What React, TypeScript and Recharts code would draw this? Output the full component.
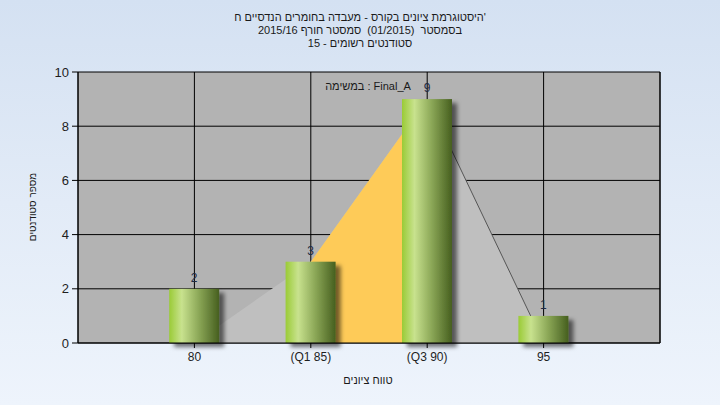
import React from 'react';
import { ComposedChart, Bar, Area, XAxis, YAxis, CartesianGrid, LabelList } from 'recharts';

const grades = [80, 85, 90, 95];
const gradeLabels = ['80', '(Q1 85)', '(Q3 90)', '95'];
const counts = [2, 3, 9, 1];
const polygonValues = [0, 3, 9, 0];
const iqrValues = [null, 3, 9, null];
const tailValues = [null, null, 9, 0];
const yTicks = [0, 2, 4, 6, 8, 10];

const titleLines = [
  "היסטוגרמת ציונים בקורס - מעבדה בחומרים הנדסיים ח'",
  'בסמסטר  (01/2015)  סמסטר חורף 2015/16',
  'סטודנטים רשומים - 15',
];
const titleDirs: ('ltr' | 'rtl')[] = ['ltr', 'rtl', 'rtl'];
const legendText = 'Final_A : במשימה';
const xTitle = 'טווח ציונים';
const yTitle = 'מספר סטודנטים';

const data = grades.map((g, i) => ({
  grade: g,
  count: counts[i],
  poly: polygonValues[i],
  iqr: iqrValues[i],
  tail: tailValues[i],
}));

const FONT = '"Liberation Sans", "DejaVu Sans", Arial, sans-serif';

const GradientBar = (props: any) => {
  const { x, y, width, height } = props;
  if (!height || height <= 0) return null;
  return (
    <rect x={x} y={y} width={width} height={height} fill="url(#barGrad)" filter="url(#barShadow)" />
  );
};

const XTick = (props: any) => {
  const { x, y, payload } = props;
  const idx = grades.indexOf(payload.value);
  return (
    <text x={x} y={y} dy="0.71em" textAnchor="middle" fontSize={12} fill="#1e1e1e" fontFamily={FONT}>
      {idx >= 0 ? gradeLabels[idx] : payload.value}
    </text>
  );
};

export default function App() {
  return (
    <div
      style={{
        position: 'absolute',
        left: 0,
        top: 0,
        width: 720,
        height: 405,
        background: 'linear-gradient(180deg, #d4e1f2 0%, #e2ebf7 50%, #eef4fc 100%)',
        fontFamily: FONT,
      }}
    >
      <svg width={0} height={0} style={{ position: 'absolute' }}>
        <defs>
          <linearGradient id="barGrad" x1="0" y1="0" x2="1" y2="0">
            <stop offset="0%" stopColor="#9acb36" />
            <stop offset="25%" stopColor="#c8e28e" />
            <stop offset="60%" stopColor="#8aa656" />
            <stop offset="100%" stopColor="#465f1f" />
          </linearGradient>
          <filter id="barShadow" x="-20%" y="-20%" width="160%" height="160%">
            <feDropShadow dx="5" dy="4" stdDeviation="2" floodColor="#000" floodOpacity="0.55" />
          </filter>
        </defs>
      </svg>
      <ComposedChart
        width={720}
        height={405}
        data={data}
        margin={{ top: 72, right: 20, bottom: 32, left: 38 }}
      >
        <CartesianGrid yAxisId="left" stroke="#000" strokeWidth={1} fill="#b3b3b3" fillOpacity={1} />
        <XAxis
          type="number"
          dataKey="grade"
          domain={[75, 100]}
          ticks={grades}
          height={30}
          tick={<XTick />}
          tickSize={5}
          tickMargin={4}
          axisLine={{ stroke: '#000' }}
          tickLine={{ stroke: '#000' }}
        />
        <YAxis
          yAxisId="left"
          domain={[0, 10]}
          ticks={yTicks}
          width={40}
          tickSize={6}
          tickMargin={3}
          tick={{ fontSize: 13, fill: '#1e1e1e', fontFamily: FONT }}
          axisLine={{ stroke: '#000' }}
          tickLine={{ stroke: '#000' }}
        />
        <YAxis
          yAxisId="right"
          orientation="right"
          domain={[0, 10]}
          ticks={yTicks}
          width={40}
          tickSize={6}
          tickMargin={4}
          tick={{ fontSize: 13, fill: '#1e1e1e', fontFamily: FONT, textAnchor: 'start' }}
          axisLine={{ stroke: '#000' }}
          tickLine={{ stroke: '#000' }}
        />
        <Area
          yAxisId="left"
          type="linear"
          dataKey="poly"
          stroke="none"
          fill="#bfbfbf"
          fillOpacity={1}
          isAnimationActive={false}
          dot={false}
          activeDot={false}
        />
        <Area
          yAxisId="left"
          type="linear"
          dataKey="iqr"
          stroke="none"
          fill="#fecb58"
          fillOpacity={1}
          isAnimationActive={false}
          dot={false}
          activeDot={false}
        />
        <Area
          yAxisId="left"
          type="linear"
          dataKey="tail"
          stroke="#555555"
          strokeWidth={1}
          fill="#bfbfbf"
          fillOpacity={1}
          dot={false}
          activeDot={false}
          isAnimationActive={false}
        />
        <Bar yAxisId="left" dataKey="count" barSize={50} shape={<GradientBar />} isAnimationActive={false}>
          <LabelList dataKey="count" position="top" offset={7} fontSize={12} fill="#1e2a44" fontFamily={FONT} />
        </Bar>
      </ComposedChart>
      <svg width={720} height={405} style={{ position: 'absolute', left: 0, top: 0, pointerEvents: 'none' }}>
        {titleLines.map((t, i) => (
          <text
            key={i}
            x={360}
            y={21 + i * 13}
            textAnchor="middle"
            fontSize={11}
            fill="#1a1a1a"
            fontFamily={FONT}
            style={{ direction: titleDirs[i], whiteSpace: 'pre' }}
          >
            {t}
          </text>
        ))}
        <text x={368} y={90} textAnchor="middle" fontSize={11} fill="#1a1a1a" fontFamily={FONT} style={{ direction: 'rtl' }}>
          {legendText}
        </text>
        <text x={368} y={384} textAnchor="middle" fontSize={11} fill="#1a1a1a" fontFamily={FONT} style={{ direction: 'rtl' }}>
          {xTitle}
        </text>
        <text
          x={36}
          y={207}
          textAnchor="middle"
          fontSize={10}
          fill="#1a1a1a"
          fontFamily={FONT}
          style={{ direction: 'rtl' }}
          transform="rotate(-90 36 207)"
        >
          {yTitle}
        </text>
      </svg>
    </div>
  );
}
